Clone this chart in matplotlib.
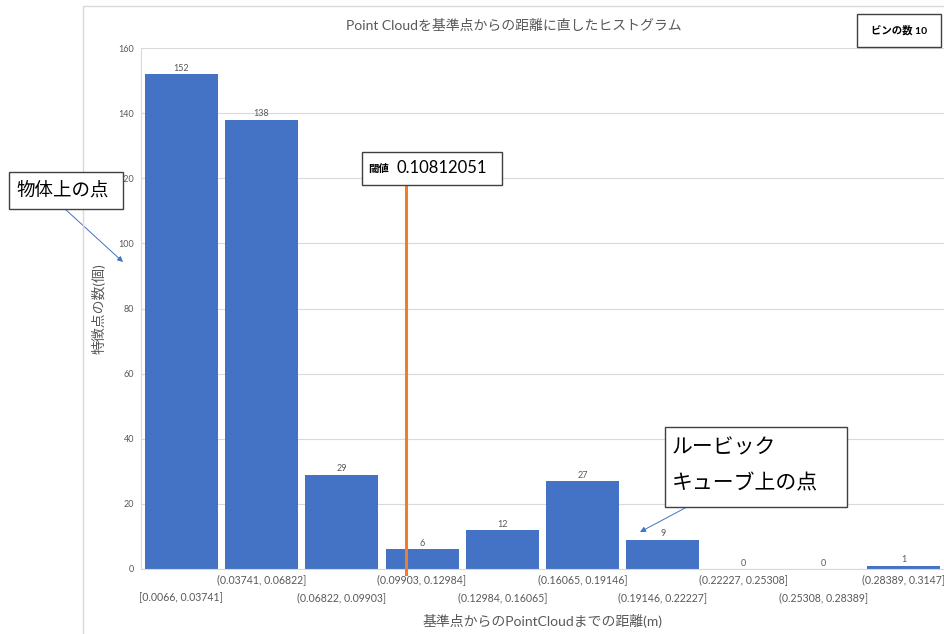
import matplotlib
matplotlib.use("Agg")
import matplotlib.pyplot as plt
from matplotlib.patches import Rectangle

plt.rcParams['font.family'] = ['Lato', 'Noto Sans CJK JP', 'DejaVu Sans']

# histogram data
counts = [152, 138, 29, 6, 12, 27, 9, 0, 0, 1]
edges = [0.0066, 0.03741, 0.06822, 0.09903, 0.12984, 0.16065,
         0.19146, 0.22227, 0.25308, 0.28389, 0.3147]
bin_labels = ["[0.0066, 0.03741]", "(0.03741, 0.06822]", "(0.06822, 0.09903]",
              "(0.09903, 0.12984]", "(0.12984, 0.16065]", "(0.16065, 0.19146]",
              "(0.19146, 0.22227]", "(0.22227, 0.25308]", "(0.25308, 0.28389]",
              "(0.28389, 0.3147]"]
threshold = 0.10812051
n_bins = 10

W, H = 945, 634
BLUE = "#4472C4"
ORANGE = "#ED7D31"
GRAY = "#595959"
GRID = "#D9D9D9"


def fx(px):
    return px / W


def fy(py):
    return 1 - py / H


fig = plt.figure(figsize=(W / 100, H / 100), dpi=100)

# chart area frame
fig.add_artist(Rectangle((fx(83), fy(640)), fx(900), 1, transform=fig.transFigure,
                         fill=False, edgecolor=GRID, lw=1))

ax = fig.add_axes([fx(141), fy(569), fx(803), fy(48) - fy(569)])

centers = [(edges[i] + edges[i + 1]) / 2 for i in range(n_bins)]
widths = [(edges[i + 1] - edges[i]) * 0.91 for i in range(n_bins)]
bars = ax.bar(centers, counts, width=widths, color=BLUE, zorder=2)
ax.bar_label(bars, labels=[str(c) for c in counts], padding=1, fontsize=6.5, color=GRAY)

ax.set_xlim(edges[0], edges[-1])
ax.set_ylim(0, 160)
ax.set_yticks(range(0, 161, 20))
ax.grid(axis='y', color=GRID, lw=0.8, zorder=0)
ax.set_axisbelow(True)

for s in ['top', 'right']:
    ax.spines[s].set_visible(False)
ax.spines['left'].set_color(GRID)
ax.spines['bottom'].set_color(GRID)

# staggered category labels: odd bins on the first row, even bins below
ax.set_xticks(centers[1::2], bin_labels[1::2])
ax.set_xticks(centers[0::2], bin_labels[0::2], minor=True)
ax.tick_params(axis='x', which='major', length=0, pad=4, labelsize=7.6, labelcolor=GRAY)
ax.tick_params(axis='x', which='minor', length=0, pad=16.5, labelsize=7.6, labelcolor=GRAY)
ax.tick_params(axis='y', length=0, pad=5, labelsize=6.5, labelcolor=GRAY)

ax.set_ylabel("特徴点の数(個)", fontsize=10, color=GRAY, labelpad=9)
fig.text(fx(543), fy(621), "基準点からのPointCloudまでの距離(m)", fontsize=10,
         color=GRAY, ha='center', va='center')
fig.text(fx(514), fy(25), "Point Cloudを基準点からの距離に直したヒストグラム",
         fontsize=10, color=GRAY, ha='center', va='center')

# threshold line
ax.plot([threshold, threshold], [-1.5, 118], color=ORANGE, lw=2.2, clip_on=False, zorder=3)

# threshold label box
fig.add_artist(Rectangle((fx(362), fy(185)), fx(140), fy(152) - fy(185),
                         transform=fig.transFigure, facecolor='white',
                         edgecolor='#404040', lw=1, zorder=5))
fig.text(fx(368), fy(169), "閾値", fontsize=7.5, fontweight='bold', color='black',
         va='center', ha='left', zorder=6)
fig.text(fx(397), fy(168), "0.10812051", fontsize=12, color='black',
         va='center', ha='left', zorder=6)

# bin count box
fig.add_artist(Rectangle((fx(857), fy(47)), fx(84), fy(14) - fy(47),
                         transform=fig.transFigure, facecolor='white',
                         edgecolor='#404040', lw=1, zorder=5))
fig.text(fx(899), fy(30), f"ビンの数 {n_bins}", fontsize=7.5, fontweight='bold',
         color='black', va='center', ha='center', zorder=6)

# callouts
fig.add_artist(Rectangle((fx(9), fy(209)), fx(114), fy(172) - fy(209),
                         transform=fig.transFigure, facecolor='white',
                         edgecolor='#404040', lw=1, zorder=5))
fig.text(fx(16), fy(190), "物体上の点", fontsize=13.3, color='black',
         va='center', ha='left', zorder=6)
ax.annotate("", xy=(123, H - 262), xytext=(65, H - 209),
            xycoords='figure pixels', textcoords='figure pixels',
            arrowprops=dict(arrowstyle='-|>', color=BLUE, lw=0.7,
                            mutation_scale=8, shrinkA=0, shrinkB=0),
            annotation_clip=False, zorder=6)

fig.add_artist(Rectangle((fx(665), fy(507)), fx(182), fy(427) - fy(507),
                         transform=fig.transFigure, facecolor='white',
                         edgecolor='#404040', lw=1, zorder=5))
fig.text(fx(672), fy(447), "ルービック", fontsize=15, color='black',
         va='center', ha='left', zorder=6)
fig.text(fx(672), fy(483), "キューブ上の点", fontsize=15, color='black',
         va='center', ha='left', zorder=6)
ax.annotate("", xy=(640, H - 532), xytext=(687, H - 507),
            xycoords='figure pixels', textcoords='figure pixels',
            arrowprops=dict(arrowstyle='-|>', color=BLUE, lw=0.7,
                            mutation_scale=8, shrinkA=0, shrinkB=0),
            annotation_clip=False, zorder=6)

fig.savefig("out.png", dpi=100)
